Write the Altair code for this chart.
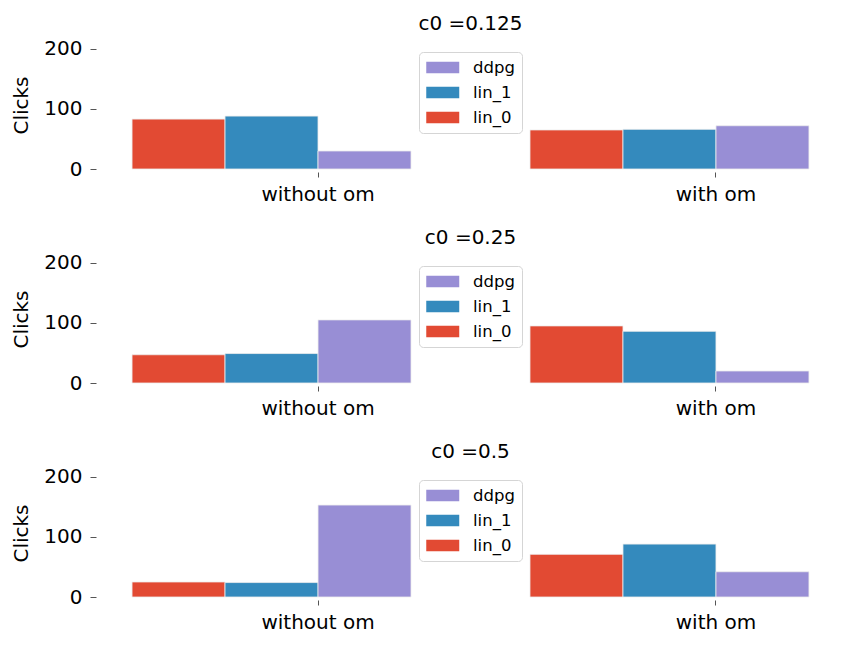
import altair as alt
import pandas as pd

# Grouped bar panels: clicks per policy, with and without om, for three c0 settings
categories = ["without om", "with om"]
series = ["lin_0", "lin_1", "ddpg"]
legend_order = ["ddpg", "lin_1", "lin_0"]
c0_levels = ["0.125", "0.25", "0.5"]

# clicks per c0 level, as [without om, with om]
lin_0 = [[83, 65], [47, 95], [25, 71]]
lin_1 = [[88, 66], [49, 86], [24, 88]]
ddpg = [[30, 72], [105, 20], [153, 42]]

palette = {"lin_0": "#E24A33", "lin_1": "#348ABD", "ddpg": "#988ED5"}
y_ticks = [0, 100, 200]
y_max = 213

rows = []
for i, c0 in enumerate(c0_levels):
    for name, vals in (("lin_0", lin_0), ("lin_1", lin_1), ("ddpg", ddpg)):
        for j, cat in enumerate(categories):
            rows.append({"c0": c0, "policy": name, "condition": cat, "clicks": vals[i][j]})
df = pd.DataFrame(rows)

FONT = "DejaVu Sans"
# wide, short legend swatch: left edge at the symbol anchor, 2x wider than its nominal size
swatch = "M-1,-0.7L3,-0.7L3,0.7L-1,0.7Z"
bar_px = 739 * (1 - 0.299) / (2 - 0.299 + 2 * 0.078) / 3  # width of one bar


def panel(c0):
    sub = df[df["c0"] == c0]
    return (
        alt.Chart(sub, title=alt.Title(f"c0 ={c0}"))
        .mark_bar(stroke="#EEEEEE", strokeWidth=0.8)
        .encode(
            x=alt.X(
                "condition:N",
                sort=categories,
                scale=alt.Scale(paddingInner=0.299, paddingOuter=0.078),
                axis=alt.Axis(
                    title=None,
                    labelAngle=0,
                    bandPosition=2 / 3,
                    labelOffset=bar_px / 2,
                    domain=False,
                    tickSize=5,
                    tickColor="#555555",
                    offset=3,
                    labelPadding=7,
                    labelFontSize=20,
                    labelFont=FONT,
                    labelColor="#000000",
                ),
            ),
            xOffset=alt.XOffset("policy:N", sort=series),
            y=alt.Y(
                "clicks:Q",
                scale=alt.Scale(domain=[0, y_max], nice=False),
                axis=alt.Axis(
                    values=y_ticks,
                    title="Clicks",
                    titleFontSize=20,
                    titleFont=FONT,
                    titleFontWeight="normal",
                    titleColor="#000000",
                    titlePadding=12,
                    domain=False,
                    grid=False,
                    tickSize=6,
                    tickColor="#555555",
                    offset=5,
                    labelPadding=8,
                    labelFontSize=20,
                    labelFont=FONT,
                    labelColor="#000000",
                ),
            ),
            color=alt.Color(
                "policy:N",
                scale=alt.Scale(domain=legend_order, range=[palette[k] for k in legend_order]),
                legend=alt.Legend(
                    title=None,
                    orient="none",
                    legendX=318,
                    legendY=11,
                    symbolType=swatch,
                    symbolSize=272,
                    symbolStrokeWidth=0,
                    symbolOpacity=1,
                    labelOffset=30,
                    labelFontSize=16.5,
                    labelFont=FONT,
                    labelColor="#000000",
                    rowPadding=8,
                    padding=7,
                    fillColor="#FFFFFF",
                    strokeColor="#D5D5D5",
                    cornerRadius=4,
                ),
            ),
        )
        .properties(width=739, height=128)
    )


chart = (
    alt.vconcat(*[panel(c) for c in c0_levels], spacing=23)
    .resolve_legend(color="independent")
    .properties(padding={"left": 11, "top": 13, "right": 5, "bottom": 5})
    .configure(background="#FFFFFF")
    .configure_view(stroke="transparent", strokeWidth=0)
    .configure_title(
        font=FONT, fontSize=20, fontWeight="normal", color="#000000",
        anchor="middle", baseline="alphabetic", offset=5,
    )
)

chart.save("out.html", embed_options={"renderer": "svg", "actions": False})
